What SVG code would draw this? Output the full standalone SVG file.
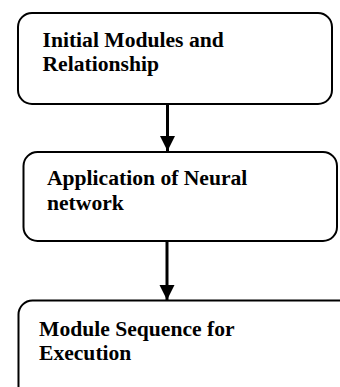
<svg xmlns="http://www.w3.org/2000/svg" width="340" height="387" viewBox="0 0 340 387">
<style>
.box{fill:#fff;stroke:#000;stroke-width:2}
.lbl{font-family:"Liberation Serif","Times New Roman",serif;font-weight:bold;font-size:21.6px;fill:#000}
.conn{stroke:#000;stroke-width:3;fill:none}
</style>
<defs>
<marker id="arr" markerUnits="userSpaceOnUse" markerWidth="16" markerHeight="16" refX="15" refY="7.5" orient="auto">
<path d="M0,0 L15,7.5 L0,15 Z" fill="#000"/>
</marker>
</defs>
<rect width="340" height="387" fill="#fff"/>
<g id="node1">
<rect class="box" x="18" y="13" width="314" height="91" rx="14"/>
<text class="lbl" x="42.5" y="46.5">Initial Modules and</text>
<text class="lbl" x="42.5" y="70.5">Relationship</text>
</g>
<g id="node2">
<rect class="box" x="23.5" y="152" width="313.5" height="89" rx="14"/>
<text class="lbl" x="47" y="185">Application of Neural</text>
<text class="lbl" x="47" y="210">network</text>
</g>
<g id="node3">
<rect class="box" x="18.5" y="300.5" width="334" height="100" rx="14"/>
<text class="lbl" x="39" y="336">Module Sequence for</text>
<text class="lbl" x="39" y="359.5">Execution</text>
</g>
<g id="connectors">
<line class="conn" x1="167.5" y1="104" x2="167.5" y2="151" marker-end="url(#arr)"/>
<line class="conn" x1="167" y1="241" x2="167" y2="300" marker-end="url(#arr)"/>
</g>
</svg>
